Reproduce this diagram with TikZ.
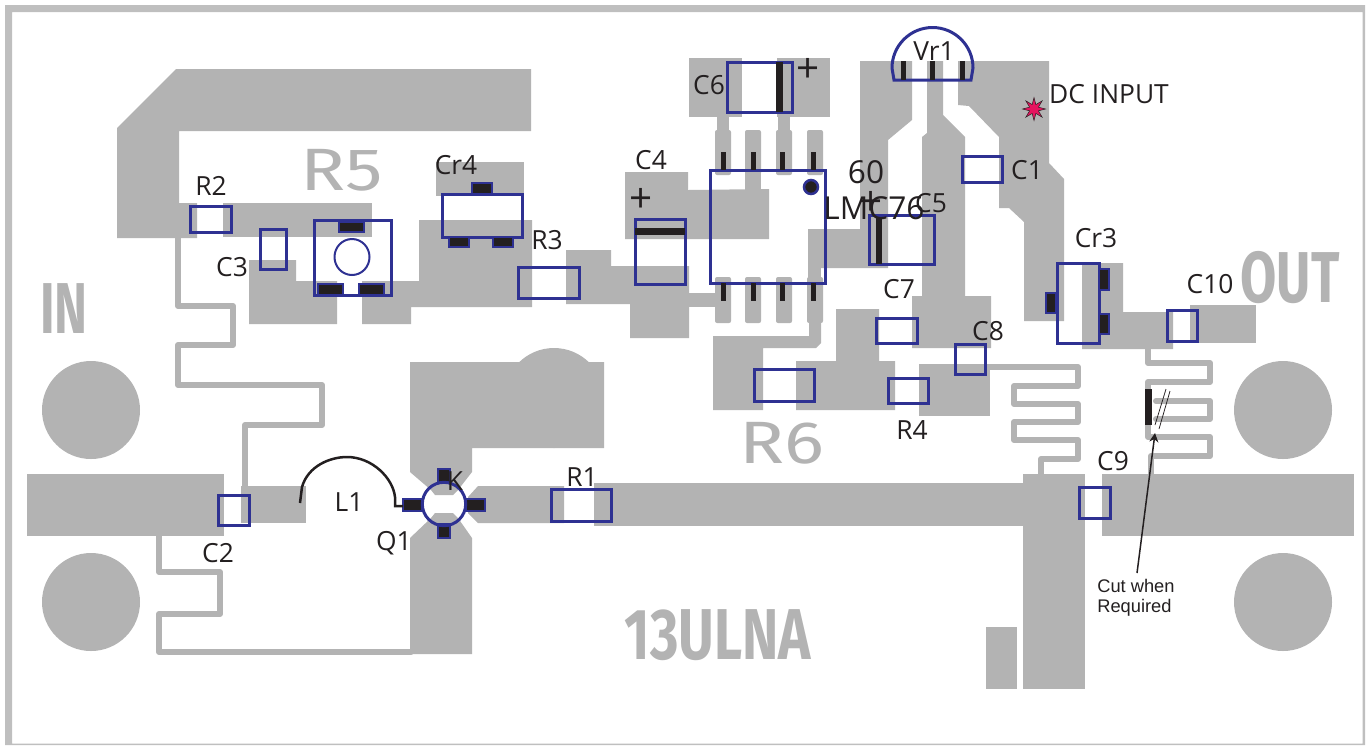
\documentclass[tikz,border=0pt]{standalone}
\usepackage{fontspec}
\setmainfont{Open Sans}
\newfontfamily\cutfont{Liberation Sans}
\newfontfamily\silkfont{Fira Sans}
\usetikzlibrary{arrows.meta,calc,shapes.geometric}
\definecolor{copperGray}{HTML}{B3B3B3}
\definecolor{frameGray}{HTML}{BFBFBF}
\definecolor{partBlue}{HTML}{2E3192}
\definecolor{pinBlack}{HTML}{231F20}
\definecolor{starRed}{HTML}{E6145F}

\begin{document}
\begin{tikzpicture}[
		x=0.2mm, y=-0.2mm,
		copper/.style={fill=copperGray, draw=none},
		thinTrace/.style={draw=copperGray, line width=1.2mm, line join=round, line cap=round},
		fingerPad/.style={fill=copperGray, draw=none, rounded corners=0.4mm},
		partBox/.style={draw=partBlue, line width=0.6mm},
		pinBar/.style={fill=pinBlack, draw=none},
		padBox/.style={fill=pinBlack, draw=partBlue, line width=0.5mm},
		partLabel/.style={anchor=base, inner sep=0pt, text=pinBlack, font=\fontsize{15}{15}\selectfont},
		plusLabel/.style={anchor=center, inner sep=0pt, text=pinBlack, font=\fontsize{23}{23}\selectfont},
		bigLabel/.style={anchor=base, inner sep=0pt, text=pinBlack, font=\fontsize{18}{18}\selectfont},
		silkThin/.style={anchor=base, inner sep=0pt, text=copperGray, font=\silkfont\fontsize{34}{34}\selectfont},
		silkBold/.style={anchor=base, inner sep=0pt, text=copperGray, font=\silkfont\bfseries\fontsize{41}{41}\selectfont}
	]
	\useasboundingbox (0,0) rectangle (1372,745);

	% Board outline
	\fill[frameGray, even odd rule] (5,5) rectangle (1365,745) (12,12) rectangle (1362.5,743.5);

	% Mounting holes
	\foreach \hx/\hy in {91/410, 91/602, 1283/410, 1283/602}
		\fill[copperGray] (\hx,\hy) circle[radius=49];

	% Top left copper
	\fill[copper] (176,69) -- (531,69) -- (531,131) -- (179,131) -- (179,203) -- (197,203) -- (197,238) -- (117,238) -- (117,128) -- cycle;
	\fill[copper] (223,203) rectangle (372,237);
	\fill[copper] (249,260) -- (296,260) -- (296,281) -- (337,281) -- (337,324) -- (249,324) -- cycle;
	\fill[copper] (362,281) -- (419,281) -- (419,220) -- (532,220) -- (532,307) -- (411,307) -- (411,324) -- (362,324) -- cycle;
	\fill[copper] (436,162) rectangle (524,196);
	\fill[copper] (566,250) -- (611,250) -- (611,266) -- (689,266) -- (689,338) -- (630,338) -- (630,304) -- (566,304) -- cycle;
	\fill[copper] (689,293) rectangle (716,307);
	\fill[copper] (625,172) -- (688,172) -- (688,190) -- (769,189) -- (769,239) -- (625,239) -- cycle;

	% C6 pads and the IC fingers
	\fill[copper] (689,58) rectangle (742,117);
	\fill[copper] (777,58) rectangle (830,117);
	\fill[copper] (717,116) rectangle (729,131);
	\fill[copper] (778,116) rectangle (790,131);
	\foreach \fx in {715,745,776,807} {
		\fill[fingerPad] (\fx,130) rectangle ++(16,45);
		\fill[fingerPad] (\fx,277) rectangle ++(16,46);
	}
	\fill[copper] (745,170) rectangle (761,190);
	\fill[copper] (808,268) rectangle (821,278);

	% Copper below the IC
	\fill[copper] (713,336) -- (809,336) -- (809,320) -- (821,320) -- (821,343) -- (816,348) -- (763,348) -- (763,410) -- (713,410) -- cycle;
	\fill[copper] (796,361) -- (836,361) -- (836,309) -- (879,309) -- (879,361) -- (895,361) -- (895,410) -- (796,410) -- cycle;
	\fill[copper] (919,364) rectangle (990,416);

	% Regulator copper
	\fill[copper] (860,61) -- (912,61) -- (912,120) -- (888,140) -- (888,268) -- (808,268) -- (808,229) -- (860,229) -- cycle;
	\fill[copper] (927,61) -- (943,61) -- (943,115) -- (965,137) -- (965,296) -- (991,296) -- (991,348) -- (912,348) -- (912,296)
		-- (922,296) -- (922,137) -- (927,133) -- cycle;
	\fill[copper] (958,61) -- (1049,61) -- (1049,163) -- (1064,179) -- (1064,321) -- (1024,321) -- (1024,222) -- (1009,208)
		-- (999,208) -- (999,137) -- (969,106) -- (958,105) -- cycle;
	\fill[copper] (1082,263) -- (1123,263) -- (1123,312) -- (1173,312) -- (1173,349) -- (1082,349) -- cycle;
	\fill[copper] (1190,305) rectangle (1256,343);

	% Input side
	\fill[copper] (27,474) rectangle (224,536);
	\fill[copper] (241,486) rectangle (306,523);

	% Q1 copper
	\fill[copper] (554,398) circle[radius=50];
	\fill[copper] (410,362) -- (604,362) -- (604,448) -- (472,448) -- (472,472) -- (458,490) -- (453,495) -- (435,495) -- (431,490) -- (410,472) -- cycle;
	\fill[copper] (410,538) -- (431,518) -- (435,513) -- (453,513) -- (458,518) -- (472,538) -- (472,654) -- (410,654) -- cycle;
	\fill[copper] (468,497) -- (478,486) -- (564,486) -- (564,523) -- (478,523) -- (468,513) -- cycle;
	\fill[copper] (594,483) -- (1085,483) -- (1085,526) -- (594,526) -- cycle;
	\fill[copper] (1023,474) rectangle (1085,689);
	\fill[copper] (986,627) rectangle (1017,689);
	\fill[copper] (1102,474) rectangle (1354,536);

	% Thin traces
	\draw[thinTrace] (178,238) -- (178,306) -- (233,306) -- (233,345) -- (178,345) -- (178,385) -- (322,385) -- (322,425) -- (245,425) -- (245,487);
	\draw[thinTrace] (159,536) -- (159,572) -- (220,572) -- (220,614) -- (159,614) -- (159,652) -- (411,652);
	\draw[thinTrace] (990,367) -- (1078,367) -- (1078,386) -- (1014,386) -- (1014,404) -- (1078,404) -- (1078,422) -- (1014,422)
		-- (1014,440) -- (1078,440) -- (1078,459) -- (1041,459) -- (1041,475);
	\draw[thinTrace] (1148,349) -- (1148,363) -- (1210,363) -- (1210,382) -- (1148,382) -- (1148,437) -- (1210,437) -- (1210,456) -- (1151,456) -- (1151,475);
	\draw[thinTrace] (1156,401) -- (1210,401) -- (1210,419) -- (1156,419);

	% Silk text
	\node[silkThin, xscale=1.25] (silkRFive) at (342,190) {R5};
	\node[silkThin, xscale=1.25] (silkRSix) at (782,463) {R6};
	\node[silkBold, xscale=0.69] (silkIn) at (64,333) {IN};
	\node[silkBold, xscale=0.73] (silkOut) at (1290,302) {OUT};
	\node[silkBold, xscale=0.76] (silkBoard) at (718,659) {13ULNA};

	% Parts
	\draw[partBox] (190,206) rectangle (231,232);
	\draw[partBox] (260,229) rectangle (286,269);
	\draw[partBox] (314,220) rectangle (391,295);
	\draw[partBlue, line width=0.4mm] (352,257) ellipse[x radius=17.5, y radius=18];
	\draw[partBox] (442,194) rectangle (522,237);
	\draw[partBox] (518,267) rectangle (579,298);
	\draw[partBox] (635,219) rectangle (685,284);
	\draw[partBox] (727,62) rectangle (792,112);
	\draw[partBox] (710,170) rectangle (825,283);
	\draw[partBox] (869,215) rectangle (934,264);
	\draw[partBox] (962,156) rectangle (1002,182);
	\draw[partBox] (876,318) rectangle (917,343);
	\draw[partBox] (955,344) rectangle (985,374);
	\draw[partBox] (888,378) rectangle (928,403);
	\draw[partBox] (754,369) rectangle (814,401);
	\draw[partBox] (551,489) rectangle (611,521);
	\draw[partBox] (218,495) rectangle (249,525);
	\draw[partBox] (1079,487) rectangle (1110,518);
	\draw[partBox] (1167,310) rectangle (1197,341);
	\draw[partBox] (1057,263) rectangle (1099,343);
	\draw[partBox] (894,80) -- (971,80) -- (973,68) arc[start angle=0, end angle=-180, radius=40.5] -- cycle;

	% Pins
	\foreach \px/\py/\pw/\ph in {339/222/25/10, 318/284/25/11, 359/284/25/11, 472/183/20/11, 449/237/20/10, 493/237/20/10,
			1099/269/10/21, 1099/314/10/20, 1046/293/10/20, 438/469/12/14, 438/524/12/14, 403/499/19/12, 466/499/19/12}
		\filldraw[padBox] (\px,\py) rectangle ++(\pw,\ph);
	\foreach \px in {721,751,780,811} {
		\fill[pinBar] (\px,152) rectangle ++(5,18);
		\fill[pinBar] (\px,283) rectangle ++(5,18);
	}
	\foreach \px in {901,930,960}
		\fill[pinBar] (\px,61) rectangle ++(5,19);
	\fill[pinBar] (635,228) rectangle (685,235);
	\fill[pinBar] (776,62) rectangle (783,112);
	\fill[pinBar] (876,217) rectangle (882,264);
	\fill[pinBar] (1145,389) rectangle (1152,425);
	\filldraw[padBox] (811,187) circle[radius=7];
	\draw[partBlue, line width=0.6mm] (444,504) circle[radius=21.7];

	% Inductor
	\draw[pinBlack, line width=0.5mm] (300,503) -- (302,487) .. controls (308,466) and (330,457) .. (347,457)
		.. controls (372,457) and (393,478) .. (395,497) -- (395,506) -- (403,506);

	% Cut mark
	\draw[pinBlack, line width=0.15mm] (1166,389) -- (1155,425);
	\draw[pinBlack, line width=0.15mm] (1170,391) -- (1159,429);
	\coordinate (cutTail) at (1137,573);
	\coordinate (cutTip) at (1155,433);
	\draw[-{Stealth[length=1.8mm, width=1.8mm]}, pinBlack, line width=0.3mm] (cutTail) -- (cutTip);

	% DC input mark
	\node[star, star points=8, star point ratio=2.4, minimum size=4.6mm, inner sep=0pt, fill=starRed, draw=pinBlack, line width=0.1mm] (dcStar) at (1034,109) {};

	% Labels
	\foreach \tx/\ty/\tname/\ttext in {211/195/lblRTwo/R2, 232/276/lblCThree/C3, 456/174/lblCrFour/Cr4, 547/249/lblRThree/R3,
			651/169/lblCFour/C4, 709/94/lblCSix/C6, 934/60/lblVr/Vr1, 1027/179/lblCOne/C1, 931/212/lblCFive/C5,
			1096/247/lblCrThree/Cr3, 1210/293/lblCTen/C10, 899/298/lblCSeven/C7, 988/340/lblCEight/C8, 912/439/lblRFour/R4,
			582/486/lblROne/R1, 218/562/lblCTwo/C2, 349/511/lblLOne/L1, 394/550/lblQOne/Q1, 455/490/lblK/K, 1113/470/lblCNine/C9,
			1109/103/lblDc/DC INPUT}
		\node[partLabel] (\tname) at (\tx,\ty) {\ttext};
	\node[plusLabel] (lblPlusA) at (641,200) {+};
	\node[plusLabel] (lblPlusB) at (808,70) {+};
	\node[plusLabel] (lblPlusC) at (871,203) {+};
	\node[bigLabel] (lblSixty) at (866,183) {60};
	\node[bigLabel] (lblChip) at (874,219) {LMC76};
	\node[anchor=north west, inner sep=0pt, align=left, text=pinBlack, font=\cutfont\fontsize{10.4}{11.4}\selectfont] (lblCut) at (1097,579) {Cut when\\Required};
\end{tikzpicture}
\end{document}
